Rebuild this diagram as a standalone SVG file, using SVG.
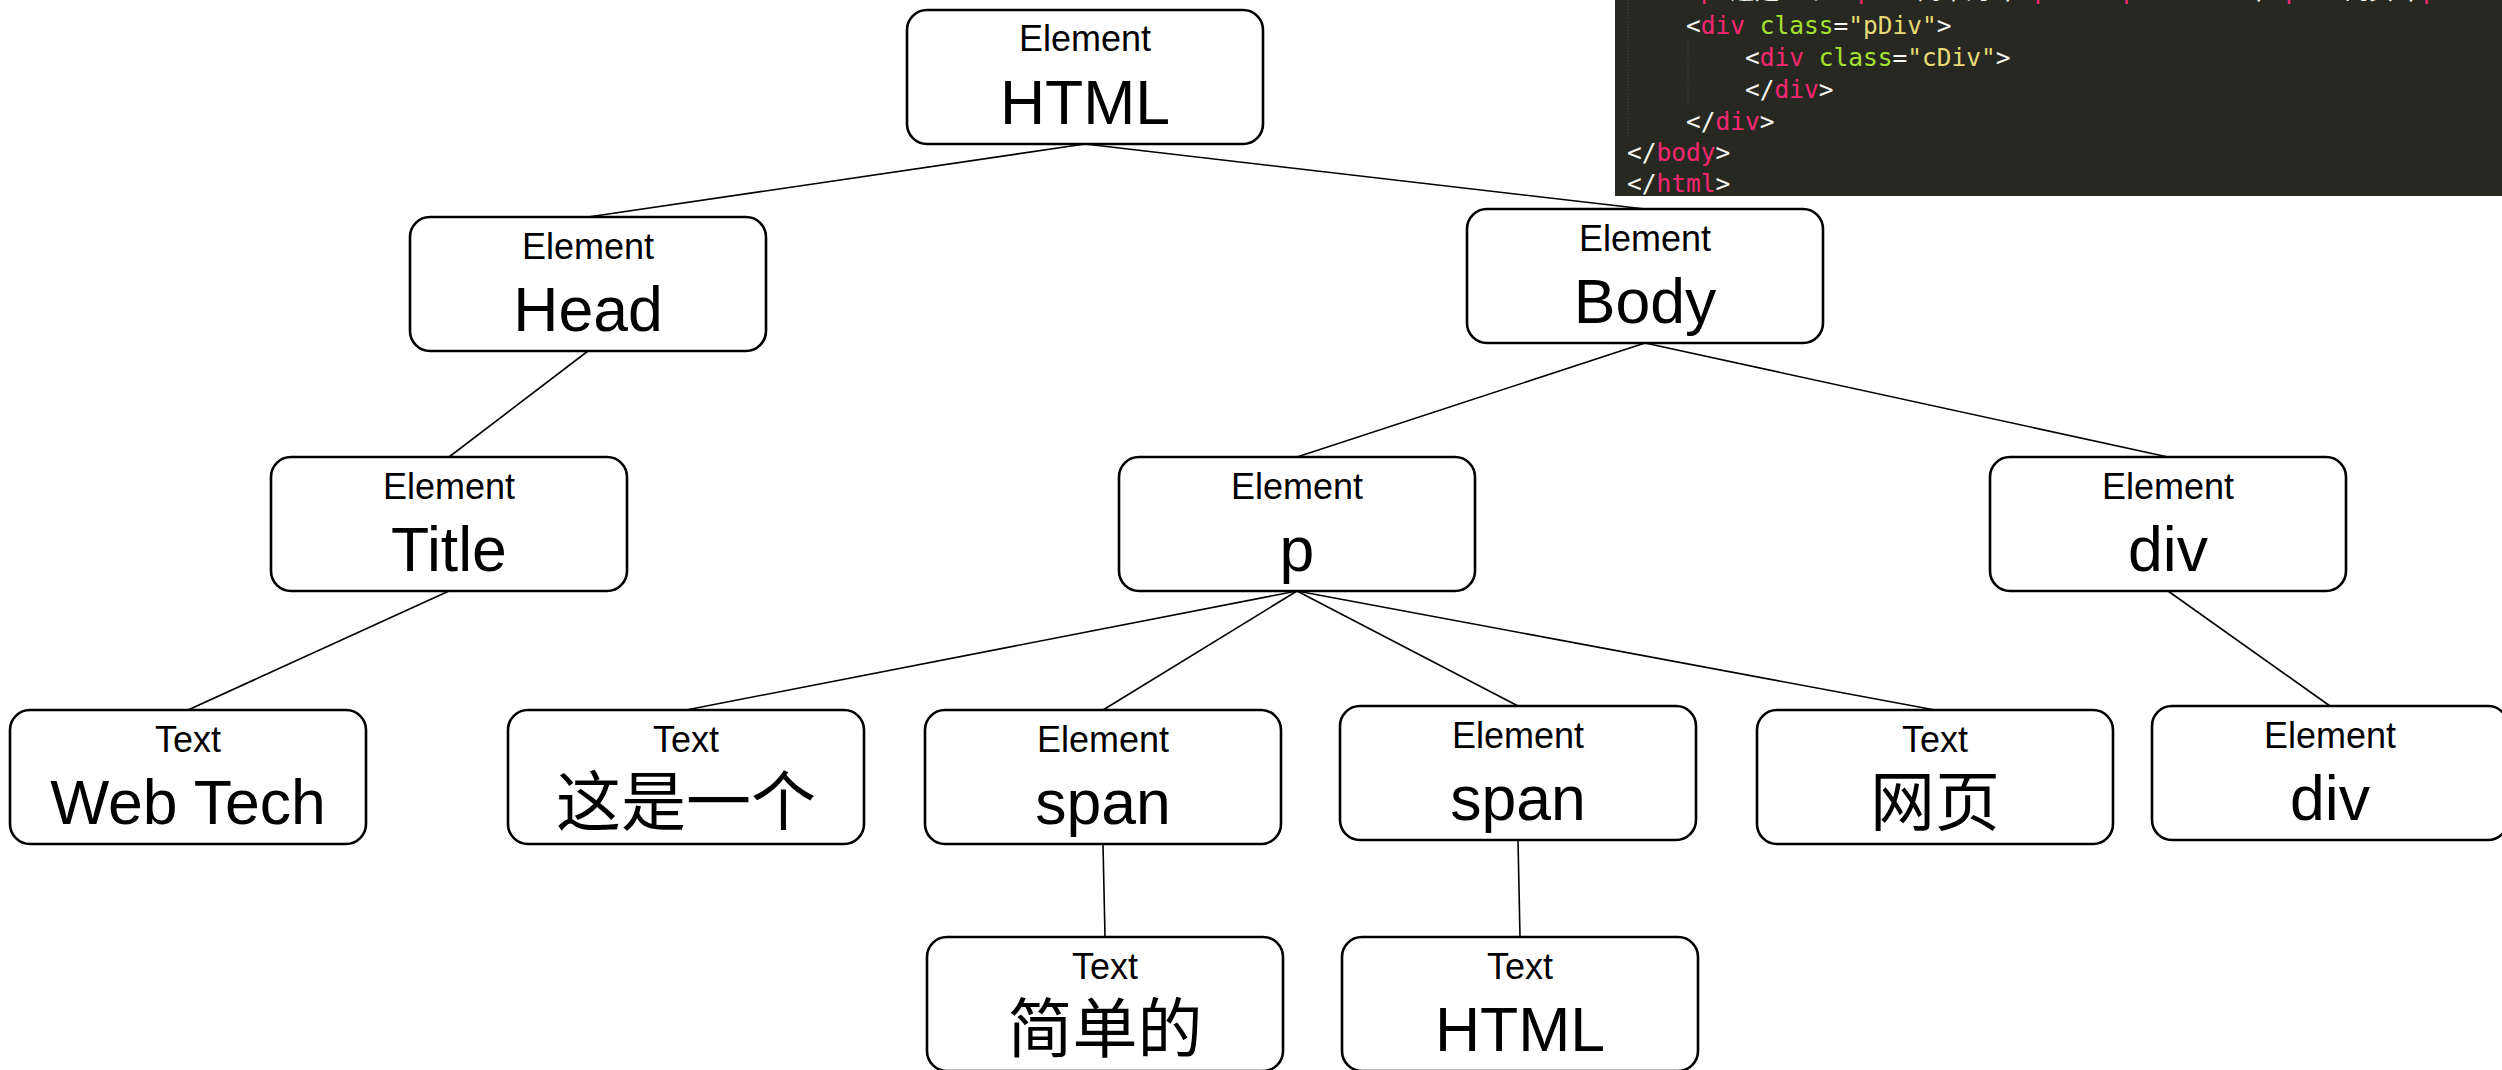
<svg xmlns="http://www.w3.org/2000/svg" width="2502" height="1070" viewBox="0 0 2502 1070">
<style>
.box{fill:#fff;stroke:#000;stroke-width:2.6}
.lbl{font-family:"Liberation Sans","Noto Sans CJK SC",sans-serif;font-size:36px;fill:#000;text-anchor:middle}
.main{font-family:"Liberation Sans","Noto Sans CJK SC",sans-serif;font-size:62.5px;fill:#000;text-anchor:middle}
.cjk{font-size:65px}
.edge{stroke:#000;stroke-width:1.6;fill:none}
.code{font-family:"DejaVu Sans Mono","Liberation Mono","Noto Sans CJK SC",monospace;font-size:24.5px;fill:#f8f8f2;white-space:pre}
.tg{fill:#f92672}.at{fill:#a6e22e}.st{fill:#e6db74}
</style>
<rect width="2502" height="1070" fill="#fff"/>
<g id="code-panel">
<rect x="1615" y="0" width="887" height="196" fill="#272822"/>
<line x1="1628" y1="0" x2="1628" y2="138" stroke="#464741" stroke-width="1" stroke-dasharray="1,2"/>
<line x1="1688" y1="40" x2="1688" y2="106" stroke="#464741" stroke-width="1" stroke-dasharray="1,2"/>
<text class="code" x="1686" y="-1">&lt;<tspan class="tg">p</tspan>&gt;这是一个&lt;<tspan class="tg">span</tspan>&gt;简单的&lt;/<tspan class="tg">span</tspan>&gt;&lt;<tspan class="tg">span</tspan>&gt;HTML&lt;/<tspan class="tg">span</tspan>&gt;网页&lt;/<tspan class="tg">p</tspan>&gt;</text>
<text class="code" x="1686" y="34">&lt;<tspan class="tg">div</tspan> <tspan class="at">class</tspan>=<tspan class="st">"pDiv"</tspan>&gt;</text>
<text class="code" x="1745" y="66">&lt;<tspan class="tg">div</tspan> <tspan class="at">class</tspan>=<tspan class="st">"cDiv"</tspan>&gt;</text>
<text class="code" x="1745" y="98">&lt;/<tspan class="tg">div</tspan>&gt;</text>
<text class="code" x="1686" y="130">&lt;/<tspan class="tg">div</tspan>&gt;</text>
<text class="code" x="1627" y="161">&lt;/<tspan class="tg">body</tspan>&gt;</text>
<text class="code" x="1627" y="192">&lt;/<tspan class="tg">html</tspan>&gt;</text>
</g>
<g id="connectors">
<line class="edge" x1="1085" y1="144" x2="588" y2="217"/>
<line class="edge" x1="1085" y1="144" x2="1645" y2="209"/>
<line class="edge" x1="588" y1="351" x2="449" y2="457"/>
<line class="edge" x1="1645" y1="343" x2="1297" y2="457"/>
<line class="edge" x1="1645" y1="343" x2="2168" y2="457"/>
<line class="edge" x1="449" y1="591" x2="188" y2="710"/>
<line class="edge" x1="1297" y1="591" x2="686" y2="710"/>
<line class="edge" x1="1297" y1="591" x2="1103" y2="710"/>
<line class="edge" x1="1297" y1="591" x2="1518" y2="706"/>
<line class="edge" x1="1297" y1="591" x2="1935" y2="710"/>
<line class="edge" x1="2168" y1="591" x2="2330" y2="706"/>
<line class="edge" x1="1103" y1="844" x2="1105" y2="937"/>
<line class="edge" x1="1518" y1="840" x2="1520" y2="937"/>
</g>
<g id="n-html"><rect class="box" x="907" y="10" width="356" height="134" rx="20"/><text class="lbl" x="1085" y="51">Element</text><text class="main" x="1085" y="124">HTML</text></g>
<g id="n-head"><rect class="box" x="410" y="217" width="356" height="134" rx="20"/><text class="lbl" x="588" y="259">Element</text><text class="main" x="588" y="331">Head</text></g>
<g id="n-body"><rect class="box" x="1467" y="209" width="356" height="134" rx="20"/><text class="lbl" x="1645" y="251">Element</text><text class="main" x="1645" y="323">Body</text></g>
<g id="n-title"><rect class="box" x="271" y="457" width="356" height="134" rx="20"/><text class="lbl" x="449" y="499">Element</text><text class="main" x="449" y="571">Title</text></g>
<g id="n-p"><rect class="box" x="1119" y="457" width="356" height="134" rx="20"/><text class="lbl" x="1297" y="499">Element</text><text class="main" x="1297" y="571">p</text></g>
<g id="n-div"><rect class="box" x="1990" y="457" width="356" height="134" rx="20"/><text class="lbl" x="2168" y="499">Element</text><text class="main" x="2168" y="571">div</text></g>
<g id="n-webtech"><rect class="box" x="10" y="710" width="356" height="134" rx="20"/><text class="lbl" x="188" y="752">Text</text><text class="main" x="188" y="824">Web Tech</text></g>
<g id="n-text1"><rect class="box" x="508" y="710" width="356" height="134" rx="20"/><text class="lbl" x="686" y="752">Text</text><text class="main cjk" x="686" y="825">这是一个</text></g>
<g id="n-span1"><rect class="box" x="925" y="710" width="356" height="134" rx="20"/><text class="lbl" x="1103" y="752">Element</text><text class="main" x="1103" y="824">span</text></g>
<g id="n-span2"><rect class="box" x="1340" y="706" width="356" height="134" rx="20"/><text class="lbl" x="1518" y="748">Element</text><text class="main" x="1518" y="820">span</text></g>
<g id="n-text2"><rect class="box" x="1757" y="710" width="356" height="134" rx="20"/><text class="lbl" x="1935" y="752">Text</text><text class="main cjk" x="1935" y="825">网页</text></g>
<g id="n-div2"><rect class="box" x="2152" y="706" width="356" height="134" rx="20"/><text class="lbl" x="2330" y="748">Element</text><text class="main" x="2330" y="820">div</text></g>
<g id="n-text3"><rect class="box" x="927" y="937" width="356" height="134" rx="20"/><text class="lbl" x="1105" y="979">Text</text><text class="main cjk" x="1105" y="1052">简单的</text></g>
<g id="n-text4"><rect class="box" x="1342" y="937" width="356" height="134" rx="20"/><text class="lbl" x="1520" y="979">Text</text><text class="main" x="1520" y="1051">HTML</text></g>
</svg>
